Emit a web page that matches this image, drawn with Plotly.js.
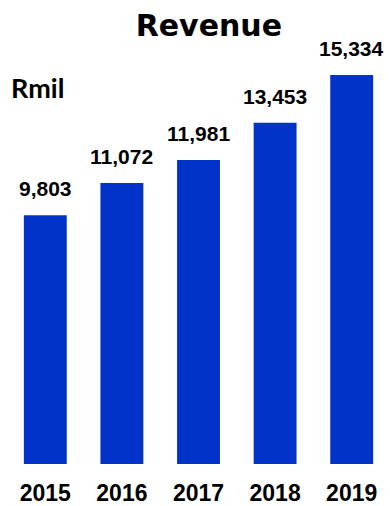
<!DOCTYPE html>
<html><head><meta charset="utf-8">
<script src="https://cdn.plot.ly/plotly-3.0.1.min.js"></script>
<style>html,body{margin:0;padding:0;background:#fff}</style>
</head><body><div id="chart" style="width:390px;height:506px"></div>
<script>
const years = ['2015', '2016', '2017', '2018', '2019'];
const revenue = [9803, 11072, 11981, 13453, 15334];
const valueLabels = ['9,803', '11,072', '11,981', '13,453', '15,334'];

const barColor = '#0233C8';
const trace = {
  type: 'bar', x: years, y: revenue,
  marker: {color: barColor}, hoverinfo: 'none'
};
const annots = years.map((y, i) => ({
  x: i, y: revenue[i], xref: 'x', yref: 'y', text: valueLabels[i],
  showarrow: false, yanchor: 'bottom', yshift: 13,
  font: {family: 'Liberation Sans, Arial, sans-serif', size: 21, color: '#000', weight: 700}
}));
annots.push({
  xref: 'paper', yref: 'paper', x: 0.005, y: 0.888, xanchor: 'left', yanchor: 'middle',
  text: '<b>Rmil</b>', showarrow: false,
  font: {family: 'Lato, sans-serif', size: 27, color: '#000'}
});
const layout = {
  width: 390, height: 506,
  margin: {l: 7, r: 0, t: 40, b: 42},
  paper_bgcolor: '#fff', plot_bgcolor: '#fff',
  title: {text: '<b>Revenue</b>', x: 0.527, xref: 'paper', xanchor: 'center', y: 0.95, yref: 'container', yanchor: 'middle',
    font: {family: 'DejaVu Sans, sans-serif', size: 30, color: '#000', weight: 900}},
  bargap: 0.44,
  xaxis: {type: 'category', showline: false, showgrid: false, zeroline: false, ticks: '', ticklabelstandoff: 13,
    tickfont: {family: 'Liberation Sans, Arial, sans-serif', size: 23, color: '#000', weight: 700}},
  yaxis: {range: [0, 16713], visible: false, showgrid: false, zeroline: false},
  annotations: annots, showlegend: false
};
Plotly.newPlot('chart', [trace], layout, {displayModeBar: false, staticPlot: true});
</script></body></html>
